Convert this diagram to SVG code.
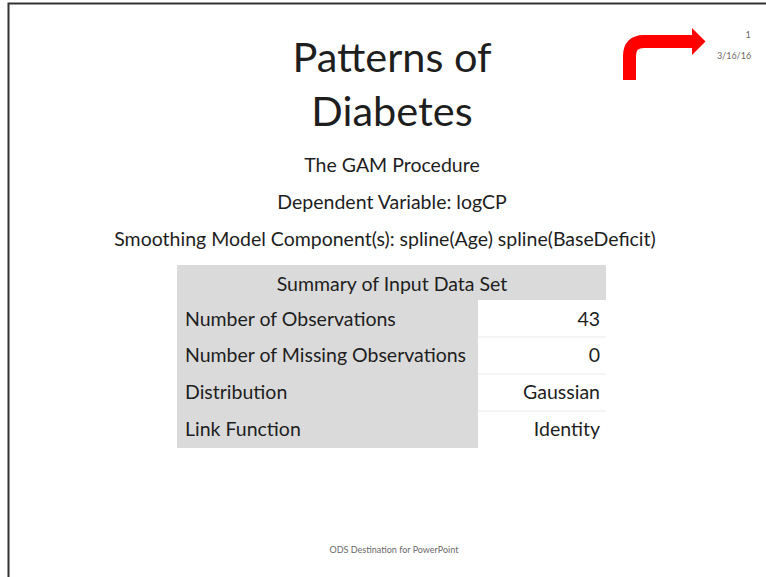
<svg xmlns="http://www.w3.org/2000/svg" width="766" height="577" viewBox="0 0 766 577">
<style>
text{font-family:Lato,"Open Sans","Noto Sans",sans-serif;fill:#1e1e1e}
.t{font-size:41.5px;text-anchor:middle}
.s{font-size:19.5px;text-anchor:middle}
.c{font-size:19.5px}
.r{font-size:19.5px;text-anchor:end}
.tiny{font-size:9px;fill:#6a6a6a}
.g{fill:#dadada}
.w{fill:#ffffff}
.sep{stroke:#f0f0f0;stroke-width:1.5}
</style>
<rect width="766" height="577" fill="#ffffff"/>
<g id="frame">
<path d="M8.5,577 V3.5 H766" fill="none" stroke="#333" stroke-width="2"/>
</g>
<g id="title">
<text class="t" x="392" y="72">Patterns of</text>
<text class="t" x="392" y="126">Diabetes</text>
</g>
<g id="subtitles">
<text class="s" x="392" y="172">The GAM Procedure</text>
<text class="s" x="392" y="209">Dependent Variable: logCP</text>
<text class="s" x="385" y="246">Smoothing Model Component(s): spline(Age) spline(BaseDeficit)</text>
</g>
<g id="table">
<rect class="g" x="177" y="265" width="429" height="183"/>
<rect class="w" x="478" y="300" width="128" height="148"/>
<line class="sep" x1="478" y1="337" x2="606" y2="337"/>
<line class="sep" x1="478" y1="374" x2="606" y2="374"/>
<line class="sep" x1="478" y1="411" x2="606" y2="411"/>
<text class="s" x="392" y="291">Summary of Input Data Set</text>
<text class="c" x="185" y="326">Number of Observations</text>
<text class="r" x="600" y="326">43</text>
<text class="c" x="185" y="362">Number of Missing Observations</text>
<text class="r" x="600" y="362">0</text>
<text class="c" x="185" y="399">Distribution</text>
<text class="r" x="600" y="399">Gaussian</text>
<text class="c" x="185" y="436">Link Function</text>
<text class="r" x="600" y="436">Identity</text>
</g>
<g id="arrow">
<path d="M629.5,80 V56 Q629.5,41.5 644,41.5 H693" fill="none" stroke="#ff0000" stroke-width="13"/>
<polygon points="692,28 705.5,41.5 692,55" fill="#ff0000"/>
</g>
<g id="header-info">
<text class="tiny" x="748" y="38" text-anchor="middle">1</text>
<text class="tiny" x="734" y="59" text-anchor="middle">3/16/16</text>
</g>
<g id="footer">
<text class="tiny" x="394" y="553" text-anchor="middle">ODS Destination for PowerPoint</text>
</g>
</svg>
